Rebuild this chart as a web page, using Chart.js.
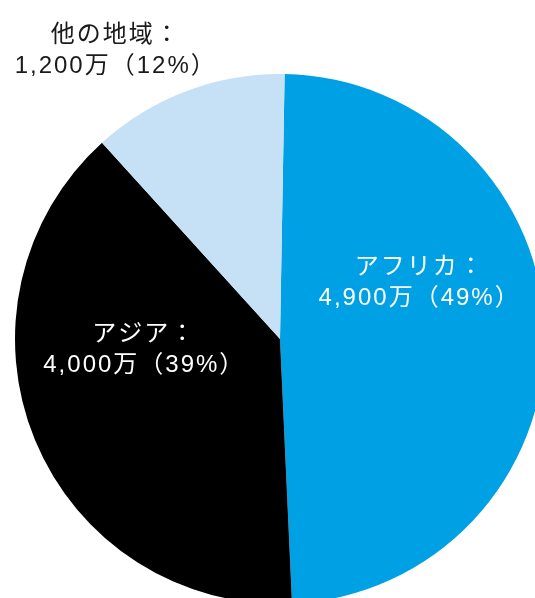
<!DOCTYPE html>
<html>
<head>
<meta charset="utf-8">
<script src="https://cdn.jsdelivr.net/npm/chart.js@4"></script>
<style>
    html, body { margin: 0; padding: 0; background: #fff; overflow: hidden; }
    #wrap { position: absolute; left: 0; top: 0; width: 560px; height: 620px; }
</style>
</head>
<body>
<div id="wrap"><canvas id="pieChart" width="560" height="620"></canvas></div>
<script>
// Data
const regions = ['アフリカ', 'アジア', '他の地域'];
const people = ['4,900万', '4,000万', '1,200万'];
const shares = [49, 39, 12];

const sliceColors = ['#00a0e4', '#000000', '#c6e1f6'];
const textColors = ['#ffffff', '#ffffff', '#1a1a1a'];
// label centre offset, in units of the pie radius from its centre
const labelOffsets = [
    { x: 0.527, y: -0.213 },
    { x: -0.512, y: 0.038 },
    { x: -0.62, y: -1.09 }
];

const sliceLabels = {
    id: 'sliceLabels',
    afterDraw(chart) {
        const ctx = chart.ctx;
        const arcs = chart.getDatasetMeta(0).data;
        ctx.save();
        ctx.font = '24px "Liberation Sans", "Noto Sans CJK JP", sans-serif';
        ctx.letterSpacing = '2px';
        ctx.textAlign = 'center';
        ctx.textBaseline = 'middle';
        arcs.forEach((arc, i) => {
            const r = arc.outerRadius;
            const cx = arc.x + labelOffsets[i].x * r;
            const cy = arc.y + labelOffsets[i].y * r;
            ctx.fillStyle = textColors[i];
            ctx.fillText(regions[i] + '：', cx, cy - 15);
            ctx.fillText(people[i] + '（' + shares[i] + '%）', cx, cy + 16);
        });
        ctx.restore();
    }
};

const pieChart = new Chart(document.getElementById('pieChart'), {
    type: 'pie',
    data: {
        labels: regions,
        datasets: [{
            data: shares,
            backgroundColor: sliceColors,
            borderWidth: 0
        }]
    },
    options: {
        responsive: false,
        animation: false,
        rotation: 1,
        layout: {
            padding: { left: 15, top: 74, right: 15, bottom: 16 }
        },
        plugins: {
            legend: { display: false },
            tooltip: { enabled: false }
        }
    },
    plugins: [sliceLabels]
});
</script>
</body>
</html>
